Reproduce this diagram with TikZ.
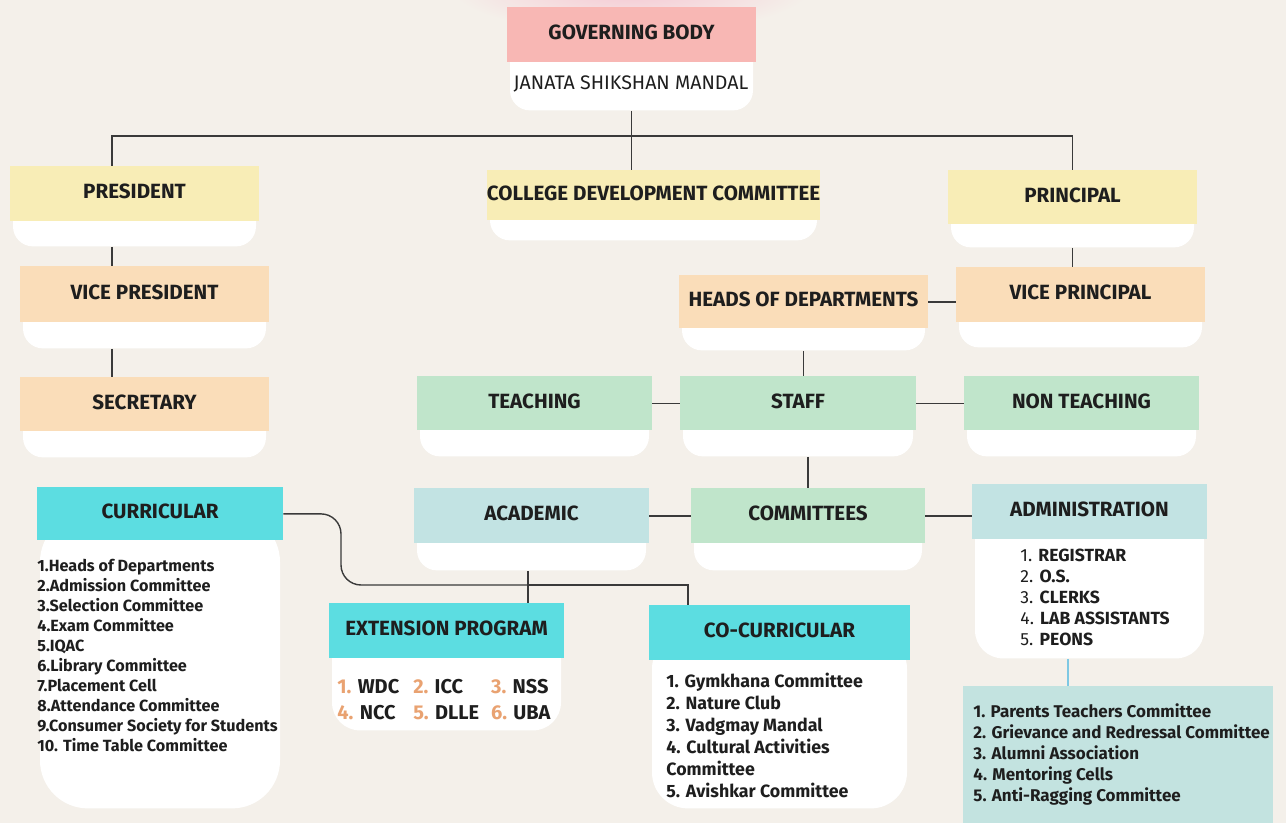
\documentclass[tikz,border=0pt]{standalone}
\usepackage{fontspec}
\setmainfont{Fira Sans}
\usepackage{tikz}
\usetikzlibrary{positioning}

\definecolor{bgc}{HTML}{F4F0EA}
\definecolor{txt}{HTML}{1E1E1E}
\definecolor{lnc}{HTML}{3A3A3A}
\definecolor{pinkh}{HTML}{F8B7B4}
\definecolor{pinkglow}{HTML}{F6C6D2}
\definecolor{yelh}{HTML}{F8EDB6}
\definecolor{orh}{HTML}{FADDB9}
\definecolor{grh}{HTML}{C0E5CB}
\definecolor{ltb}{HTML}{C2E3E3}
\definecolor{cyh}{HTML}{5CDDE1}
\definecolor{tealb}{HTML}{C3E3E0}
\definecolor{bluel}{HTML}{7EC8E3}
\definecolor{numc}{HTML}{E9A271}

\tikzset{
	head/.style={rectangle, inner sep=0pt, text=txt, text depth=2.5pt, font=\bfseries\fontsize{10.3}{12}\selectfont},
	cup/.style={rectangle, fill=white, rounded corners=10pt, inner sep=0pt},
	conn/.style={draw=lnc, line width=0.7pt},
	list/.style={anchor=north west, inner sep=0pt, align=left, text=txt},
}

% header box with white bottom: [cup opts]{name}{colour}{x}{top}{width}{head height}{total height}{text}
\newcommand{\orgbox}[9][]{%
	\node[cup, minimum width=#6*0.5pt-3pt, minimum height=(#8-#7/2)*0.5pt, anchor=north, #1] (#2-b) at (#4,#5+#7/2) {};
	\node[head, fill=#3, minimum width=#6*0.5pt, minimum height=#7*0.5pt, anchor=north] (#2) at (#4,#5) {#9};
}
\newcommand{\nm}[1]{\textcolor{numc}{#1}}

\begin{document}
\begin{tikzpicture}[x=0.5pt, y=-0.5pt]
			\useasboundingbox (0,0) rectangle (1286,823);
			\fill[bgc] (0,0) rectangle (1286,823);
			\shade[inner color=pinkglow, outer color=bgc] (631,-12) ellipse [x radius=180, y radius=45];

			\orgbox{gb}{pinkh}{631.5}{7}{249}{55}{103}{GOVERNING BODY}
			\node[text=txt, font=\fontsize{9.8}{11}\selectfont] (jsm) at (631,84) {JANATA SHIKSHAN MANDAL};

			\orgbox{pres}{yelh}{134.5}{166}{249}{55}{80}{PRESIDENT}
			\orgbox{cdc}{yelh}{653.5}{170}{333}{50}{70}{COLLEGE DEVELOPMENT COMMITTEE}
			\orgbox{prin}{yelh}{1072.5}{170}{249}{54}{77}{PRINCIPAL}
			\orgbox{vp}{orh}{144.5}{266}{249}{56}{82}{VICE PRESIDENT}
			\orgbox{sec}{orh}{144.5}{377}{249}{54}{80}{SECRETARY}
			\orgbox{hod}{orh}{803.5}{275}{249}{53}{75}{HEADS OF DEPARTMENTS}
			\orgbox{vpr}{orh}{1080.5}{267}{249}{55}{80}{VICE PRINCIPAL}
			\orgbox{teach}{grh}{534.5}{376}{235}{54}{80}{TEACHING}
			\orgbox{staff}{grh}{798}{376}{236}{54}{80}{STAFF}
			\orgbox{nont}{grh}{1081.5}{376}{235}{54}{80}{NON TEACHING}
			\orgbox{acad}{ltb}{531.5}{488}{235}{55}{82}{ACADEMIC}
			\orgbox{comm}{grh}{808}{488}{234}{55}{82}{COMMITTEES}
			\orgbox[rounded corners=14pt]{admin}{ltb}{1089.5}{484}{235}{55}{174}{ADMINISTRATION}
			\orgbox[rounded corners=24pt]{curr}{cyh}{160}{487}{246}{53}{321}{CURRICULAR}
			\orgbox[rounded corners=14pt]{ext}{cyh}{446.5}{603}{235}{55}{127}{EXTENSION PROGRAM}
			\orgbox[rounded corners=18pt]{cocu}{cyh}{779.5}{605}{261}{55}{203}{CO-CURRICULAR}
			\node[rectangle, fill=tealb, inner sep=0pt, minimum width=310*0.5pt, minimum height=137*0.5pt, anchor=north west] (cmt) at (963,686) {};

			\node[list, font=\bfseries\fontsize{8.1}{10}\selectfont] (curr-l) at (37,559) {1.Heads of Departments\\2.Admission Committee\\3.Selection Committee\\4.Exam Committee\\5.IQAC\\6.Library Committee\\7.Placement Cell\\8.Attendance Committee\\9.Consumer Society for Students\\10. Time Table Committee};
			\node[list, font=\bfseries\fontsize{10}{13}\selectfont] (ext-l) at (337,675) {\begin{tabular}{@{}l@{\hspace{7pt}}l@{\hspace{6pt}}l@{}}\nm{1.} WDC & \nm{2.} ICC & \nm{3.} NSS\\ \nm{4.} NCC & \nm{5.} DLLE & \nm{6.} UBA\end{tabular}};
			\node[list, font=\bfseries\fontsize{8.9}{11}\selectfont] (cocu-l) at (666,673) {1. Gymkhana Committee\\2. Nature Club\\3. Vadgmay Mandal\\4. Cultural Activities\\Committee\\5. Avishkar Committee};
			\node[list, font=\fontsize{8.8}{10.5}\selectfont] (admin-l) at (1020,549) {1. \textbf{REGISTRAR}\\2. \textbf{O.S.}\\3. \textbf{CLERKS}\\4. \textbf{LAB ASSISTANTS}\\5. \textbf{PEONS}};
			\node[list, font=\bfseries\fontsize{8.5}{10.5}\selectfont] (cmt-l) at (973,703) {1. Parents Teachers Committee\\2. Grievance and Redressal Committee\\3. Alumni Association\\4. Mentoring Cells\\5. Anti-Ragging Committee};

			\coordinate (lspine) at (112,0);
			\coordinate (jn) at (528,585);
			\coordinate (bend) at (341,585);
			\draw[conn] (gb-b.south) -- (gb-b.south |- cdc.north);
			\draw[conn] (pres.north -| lspine) -- ++(0,-30) -| (prin.north);
			\draw[conn] (pres-b.south -| lspine) -- (vp.north -| lspine);
			\draw[conn] (vp-b.south -| lspine) -- (sec.north -| lspine);
			\draw[conn] (prin-b.south) -- (prin-b.south |- vpr.north);
			\draw[conn] (hod.east) -- (hod.east -| vpr.west);
			\draw[conn] (hod-b.south) -- (hod-b.south |- staff.north);
			\draw[conn] (teach.east) -- (staff.west);
			\draw[conn] (staff.east) -- (nont.west);
			\draw[conn] (comm.north |- staff-b.south) -- (comm.north);
			\draw[conn] (acad.east) -- (comm.west);
			\draw[conn] (comm.east) -- (comm.east -| admin.west);
			\draw[conn] (acad-b.south -| jn) -- (jn) -- (jn |- ext.north);
			\draw[conn] (jn) -| ([xshift=-45.75pt]cocu.north);
			\draw[conn, rounded corners=10pt] (curr.east) -| (bend) -- (jn);
			\draw[draw=bluel, line width=1.3pt] ([xshift=-10.75pt]admin-b.south) -- ([xshift=-10.75pt]admin-b.south |- cmt.north);
\end{tikzpicture}
\end{document}
